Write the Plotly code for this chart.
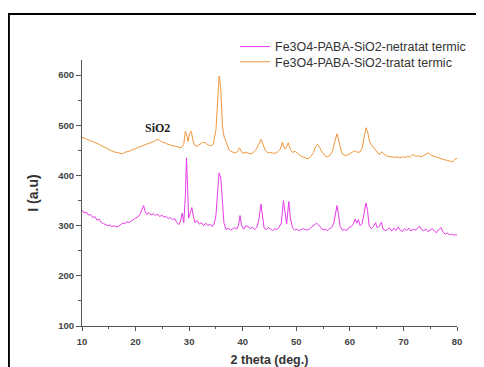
import plotly.graph_objects as go

# Fe3O4-PABA-SiO2 - tratat termic (orange)
x_tratat = [10.0, 10.5, 11.0, 11.5, 12.0, 12.5, 13.0, 13.5, 14.0, 14.5, 15.0, 15.5, 16.0, 16.5, 17.0, 17.5,
            18.0, 18.5, 19.0, 19.5, 20.0, 20.5, 21.0, 21.5, 22.0, 22.5, 23.0, 23.5, 24.0, 24.5, 25.0, 25.5,
            26.0, 26.5, 27.0, 27.5, 28.0, 28.5, 29.0, 29.3, 29.6, 29.8, 30.1, 30.4, 30.7, 31.0, 31.5, 32.0,
            32.5, 33.0, 33.5, 34.0, 34.5, 35.0, 35.3, 35.6, 35.9, 36.2, 36.5, 37.0, 37.5, 38.0, 38.5, 39.0,
            39.4, 39.8, 40.0, 40.5, 41.0, 41.5, 42.0, 42.5, 43.0, 43.4, 43.8, 44.2, 44.7, 45.0, 45.5, 46.0,
            46.5, 47.0, 47.4, 47.8, 48.1, 48.5, 48.9, 49.3, 49.8, 50.2, 50.7, 51.2, 51.7, 52.2, 52.7, 53.2,
            53.6, 54.0, 54.4, 54.8, 55.3, 55.8, 56.3, 56.8, 57.2, 57.6, 58.0, 58.4, 58.9, 59.4, 59.9, 60.4,
            60.9, 61.4, 61.9, 62.3, 62.7, 63.0, 63.3, 63.7, 64.1, 64.5, 65.0, 65.5, 65.9, 66.3, 66.8, 67.3,
            67.8, 68.3, 68.8, 69.3, 69.8, 70.3, 70.8, 71.3, 71.8, 72.3, 72.8, 73.3, 73.8, 74.3, 74.7, 75.2,
            75.7, 76.2, 76.7, 77.2, 77.7, 78.2, 78.7, 79.2, 79.6, 80.0]
y_tratat = [476, 474, 472, 469, 467, 466, 463, 460, 457, 455, 452, 449, 447, 446, 445, 443,
            446, 447, 449, 452, 453, 456, 458, 460, 462, 463, 466, 468, 472, 470, 466, 465,
            462, 460, 459, 458, 456, 455, 462, 488, 478, 468, 485, 488, 470, 460, 458, 462,
            466, 465, 461, 459, 462, 490, 550, 598, 575, 500, 478, 462, 450, 447, 445, 447,
            455, 447, 444, 446, 444, 443, 446, 452, 462, 472, 462, 450, 445, 446, 445, 444,
            447, 452, 466, 453, 455, 465, 452, 446, 448, 444, 440, 437, 435, 433, 438, 445,
            458, 462, 455, 446, 440, 437, 440, 450, 468, 483, 466, 447, 440, 440, 443, 446,
            449, 446, 447, 455, 478, 495, 488, 466, 460, 454, 447, 441, 447, 443, 439, 438,
            437, 436, 437, 435, 437, 436, 438, 437, 442, 438, 439, 437, 440, 443, 445, 440,
            438, 437, 434, 433, 431, 430, 428, 427, 432, 434]

# Fe3O4-PABA-SiO2 - netratat termic (magenta)
x_netratat = [10.0, 10.4, 10.8, 11.2, 11.6, 12.0, 12.4, 12.8, 13.2, 13.6, 14.0, 14.4, 14.8, 15.2, 15.6, 16.0,
              16.4, 16.8, 17.2, 17.6, 18.0, 18.4, 18.8, 19.2, 19.6, 20.0, 20.4, 20.8, 21.2, 21.5, 21.8, 22.1,
              22.5, 22.9, 23.3, 23.7, 24.1, 24.5, 24.9, 25.3, 25.7, 26.1, 26.5, 26.9, 27.3, 27.7, 28.1, 28.4,
              28.7, 29.0, 29.3, 29.5, 29.7, 29.9, 30.2, 30.5, 30.8, 31.1, 31.5, 31.9, 32.3, 32.7, 33.1, 33.5,
              33.9, 34.3, 34.7, 35.0, 35.3, 35.6, 35.9, 36.2, 36.5, 36.9, 37.3, 37.7, 38.1, 38.5, 38.9, 39.2,
              39.5, 39.8, 40.2, 40.6, 41.0, 41.4, 41.8, 42.2, 42.6, 43.0, 43.4, 43.7, 44.0, 44.4, 44.8, 45.2,
              45.6, 46.0, 46.4, 46.8, 47.2, 47.6, 47.9, 48.2, 48.6, 48.9, 49.3, 49.7, 50.1, 50.5, 50.9, 51.3,
              51.7, 52.1, 52.5, 52.9, 53.3, 53.8, 54.2, 54.6, 55.0, 55.4, 55.8, 56.2, 56.6, 57.0, 57.3, 57.6,
              57.9, 58.2, 58.6, 59.0, 59.4, 59.8, 60.2, 60.6, 61.0, 61.3, 61.6, 61.9, 62.3, 62.7, 63.0, 63.3,
              63.6, 64.0, 64.4, 64.8, 65.1, 65.5, 65.9, 66.2, 66.6, 67.0, 67.4, 67.8, 68.2, 68.6, 69.0, 69.4,
              69.8, 70.2, 70.6, 71.0, 71.4, 71.8, 72.2, 72.6, 73.0, 73.4, 73.8, 74.2, 74.6, 75.0, 75.4, 75.8,
              76.2, 76.6, 77.0, 77.4, 77.8, 78.2, 78.6, 79.0, 79.4, 79.8, 80.0]
y_netratat = [331, 325, 327, 321, 322, 316, 318, 311, 313, 306, 304, 302, 300, 301, 298, 300,
              297, 299, 302, 305, 304, 308, 306, 310, 312, 315, 317, 322, 333, 340, 328, 322,
              326, 321, 324, 320, 323, 318, 321, 317, 318, 314, 316, 312, 314, 306, 302, 309,
              325, 306, 360, 435, 380, 315, 325, 336, 318, 306, 310, 303, 306, 300, 305, 300,
              303, 298, 305, 320, 365, 405, 395, 340, 305, 292, 295, 291, 294, 296, 293, 300,
              320, 300, 293, 300, 298, 294, 297, 292, 296, 310, 343, 312, 295, 292, 296, 293,
              290, 294, 292, 297, 305, 350, 320, 303, 348, 315, 296, 291, 293, 290, 292, 294,
              292, 291, 294, 297, 300, 305, 301, 295, 291, 293, 290, 294, 296, 305, 325, 340,
              320, 298, 291, 292, 290, 296, 298, 302, 313, 305, 312, 300, 304, 330, 345, 330,
              300, 294, 298, 306, 296, 299, 307, 293, 290, 292, 296, 289, 295, 290, 297, 291,
              288, 294, 290, 295, 289, 293, 291, 294, 299, 292, 290, 293, 288, 291, 294, 289,
              286, 292, 296, 287, 283, 285, 282, 283, 281, 282, 281]

x_ticks = [10, 20, 30, 40, 50, 60, 70, 80]
y_ticks = [100, 200, 300, 400, 500, 600]

series_names = ["Fe3O4-PABA-SiO2-netratat termic", "Fe3O4-PABA-SiO2-tratat termic"]
series_colors = ["#E83AE8", "#F0963C"]

fig = go.Figure()
fig.add_trace(go.Scatter(x=x_netratat, y=y_netratat, mode="lines", name=series_names[0],
                         line=dict(color=series_colors[0], width=1), legend="legend"))
fig.add_trace(go.Scatter(x=x_tratat, y=y_tratat, mode="lines", name=series_names[1],
                         line=dict(color=series_colors[1], width=1), legend="legend2"))

legend_font = dict(family="Liberation Sans, Arial", size=12.5, color="#333333")
tick_font = dict(family="Liberation Sans, Arial", size=9.5, color="#444444", weight="bold")

fig.update_layout(
    width=476, height=359,
    margin=dict(l=74, r=27, t=52, b=41),
    paper_bgcolor="white", plot_bgcolor="white",
    showlegend=True,
    legend=dict(x=0.408, y=1.049, xanchor="left", yanchor="middle", font=legend_font,
                bgcolor="rgba(0,0,0,0)", itemwidth=30),
    legend2=dict(x=0.408, y=0.992, xanchor="left", yanchor="middle", font=legend_font,
                 bgcolor="rgba(0,0,0,0)", itemwidth=30),
    xaxis=dict(range=[10, 80], tickvals=x_ticks, ticks="outside", ticklen=4, tickwidth=1,
               tickcolor="#555555", showline=True, linecolor="#555555", linewidth=1,
               showgrid=False, zeroline=False, tickfont=tick_font, ticklabelstandoff=3,
               minor=dict(tickvals=[15, 25, 35, 45, 55, 65, 75], ticks="outside", ticklen=2,
                          tickcolor="#555555", showgrid=False),
               automargin=False,
               title=dict(text="<b>2 theta (deg.)</b>", standoff=15,
                          font=dict(family="Liberation Sans, Arial", size=12.5, color="#333333"))),
    yaxis=dict(range=[100, 630], tickvals=y_ticks, ticks="outside", ticklen=5, tickwidth=1,
               tickcolor="#555555", showline=True, linecolor="#555555", linewidth=1,
               showgrid=False, zeroline=False, tickfont=tick_font,
               minor=dict(tickvals=[150, 250, 350, 450, 550], ticks="outside", ticklen=3,
                          tickcolor="#555555", showgrid=False),
               automargin=False,
               title=dict(text="<b>I (a.u)</b>", standoff=16,
                          font=dict(family="Liberation Sans, Arial", size=14, color="#333333"))),
    annotations=[dict(x=24, y=495, xref="x", yref="y", text="<b>SiO2</b>", showarrow=False,
                      font=dict(family="Liberation Serif, Times New Roman", size=12, color="#222222"))],
    shapes=[dict(type="rect", xref="paper", yref="paper", x0=-0.195, x1=1.3, y0=-0.4, y1=1.173,
                 line=dict(color="black", width=2), fillcolor="rgba(0,0,0,0)", layer="below")],
)

fig.write_html("out.html")
